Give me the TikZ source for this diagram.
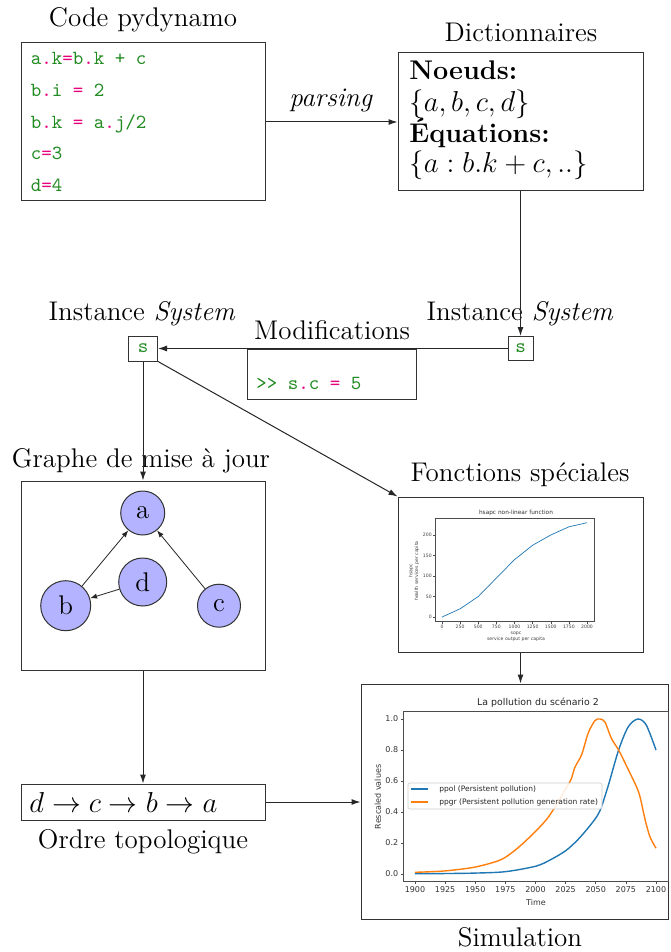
\documentclass[tikz,border=0pt]{standalone}
\usepackage{fontspec}
\newfontfamily\plotfont{DejaVu Sans}
\usetikzlibrary{arrows.meta}
\definecolor{codegreen}{RGB}{34,139,34}
\definecolor{codepink}{RGB}{230,0,126}
\definecolor{mplblue}{RGB}{31,119,180}
\definecolor{mplorange}{RGB}{255,127,14}
\definecolor{nodeblue}{RGB}{179,179,255}
\newcommand{\cg}[1]{\textcolor{codegreen}{#1}}
\newcommand{\cp}[1]{\textcolor{codepink}{#1}}
\newcommand{\bigtxt}{\fontsize{13.5pt}{16pt}\selectfont}
\begin{document}
\begin{tikzpicture}[x=0.5pt,y=-0.5pt,
  box/.style={draw=black!80, line width=0.5pt, inner sep=0pt, fill=white},
  conn/.style={draw=black!85, line width=0.5pt, -{Latex[length=4.5pt,width=3pt]}},
  lbl/.style={font=\bigtxt, inner sep=0pt, anchor=base},
  codel/.style={font=\ttfamily, inner sep=0pt, anchor=base west},
  dictl/.style={font=\bigtxt, inner sep=0pt, anchor=base west},
  gnode/.style={circle, draw=black!80, fill=nodeblue, inner sep=0pt, font=\bigtxt, line width=0.5pt},
  gedge/.style={draw=black!85, line width=0.4pt, -{Latex[length=3.5pt,width=2.6pt]}},
  axisc/.style={draw=black!70, line width=0.25pt},
  tickh/.style={font=\plotfont\fontsize{2.3pt}{2.8pt}\selectfont, text=black!75, inner sep=0.5pt},
  ticks/.style={font=\plotfont\fontsize{4pt}{4.8pt}\selectfont, text=black!80, inner sep=1pt},
  legt/.style={font=\plotfont\fontsize{3.75pt}{4.4pt}\selectfont, text=black!85, inner sep=0pt, anchor=west}]
\fill[white] (0,0) rectangle (670,952);
\useasboundingbox (0,0) rectangle (670,952);

% titles
\node[lbl] (tcode) at (143,27) {Code pydynamo};
\node[lbl] (tdict) at (521,42) {Dictionnaires};
\node[lbl] (tparse) at (331,107) {\textit{parsing}};
\node[lbl] (tinst1) at (142,320) {Instance \textit{System}};
\node[lbl] (tinst2) at (520,320) {Instance \textit{System}};
\node[lbl] (tmods) at (332,339) {Modifications};
\node[lbl] (tgraph) at (141,467) {Graphe de mise à jour};
\node[lbl] (tfonc) at (520,481) {Fonctions spéciales};
\node[lbl] (torder) at (143,848) {Ordre topologique};
\node[lbl] (tsim) at (520,946) {Simulation};

% boxes
\node[box, minimum width=122pt, minimum height=79pt] (code) at (143,122) {};
\node[box, minimum width=122.5pt, minimum height=69pt] (dict) at (520.5,122) {};
\node[box, minimum width=14.5pt, minimum height=12.5pt] (s1) at (143,348.5) {\texttt{\cg{s}}};
\node[box, minimum width=12.5pt, minimum height=12pt] (s2) at (520.5,348.5) {\texttt{\cg{s}}};
\node[box, minimum width=84.5pt, minimum height=25pt] (mods) at (331.5,374) {};
\node[box, minimum width=122pt, minimum height=94.5pt] (graph) at (143,575.5) {};
\node[box, minimum width=122.5pt, minimum height=77.5pt] (fonc) at (520.5,574.5) {};
\node[box, minimum width=153.75pt, minimum height=117.5pt] (sim) at (514.75,801.5) {};
\node[box, minimum width=122pt, minimum height=18pt] (order) at (143,802) {};

% code text
\node[codel] (c1) at (30.5,65) {\cg{a}\cp{.}\cg{k}\cp{=}\cg{b}\cp{.}\cg{k + c}};
\node[codel] (c2) at (30.5,97) {\cg{b}\cp{.}\cg{i} \cp{=} \cg{2}};
\node[codel] (c3) at (30.5,129) {\cg{b}\cp{.}\cg{k} \cp{=} \cg{a}\cp{.}\cg{j/2}};
\node[codel] (c4) at (30.5,160) {\cg{c}\cp{=}\cg{3}};
\node[codel] (c5) at (30.5,192) {\cg{d}\cp{=}\cg{4}};
\node[codel] (m1) at (256,389) {\cg{>{}>} \cg{s}\cp{.}\cg{c} \cp{=} \cg{5}};

% dictionary text
\node[dictl] (d1) at (409,80) {\textbf{Noeuds:}};
\node[dictl] (d2) at (409,111.5) {$\{a, b, c, d\}$};
\node[dictl] (d3) at (409,142.5) {\textbf{Équations:}};
\node[dictl] (d4) at (409,173) {$\{a : b.k + c, ..\}$};

% order text
\node[dictl] (o1) at (29,812) {$d \to c \to b \to a$};

% graph
\node[gnode, minimum size=22pt] (a) at (142.7,513) {a};
\node[gnode, minimum size=24pt] (d) at (142.7,582) {d};
\node[gnode, minimum size=25pt] (b) at (65.7,605.7) {b};
\node[gnode, minimum size=21.5pt] (c) at (219,605.7) {c};
\draw[gedge] (b) -- (a);
\draw[gedge] (c) -- (a);
\draw[gedge] (d) -- (b);

% connectors
\draw[conn] (code.east) -- (dict.west);
\draw[conn] (dict.south) -- (s2.north);
\draw[conn] (s2.west) -- (s1.east);
\draw[conn] (s1.south) -- (graph.north);
\draw[conn] (s1.south east) -- (fonc.north west);
\draw[conn] (fonc.south) -- (fonc.south |- sim.north);
\draw[conn] (graph.south) -- (order.north);
\draw[conn] (order.east) -- (order.east -| sim.west);

% hsapc plot
\node[font=\plotfont\fontsize{2.9pt}{3.5pt}\selectfont, text=black!80, inner sep=0pt] (ht) at (516,512.5) {hsapc non-linear function};
\node[tickh, align=center] (hx) at (516,636.5) {sopc\\service output per capita};
\node[tickh, align=center, rotate=90] (hy) at (414,571) {hsapc\\health services per capita};
\begin{scope}[shift={(442,617)}]
\begin{scope}[x=0.03625pt,y=0.205pt]
\draw[axisc] (-100,-11.5) rectangle (2100,241.5);
\foreach \t in {0,250,...,2000} {\draw[axisc] (\t,-11.5) -- ++(0pt,-0.9pt) node[tickh, anchor=north]{\t};}
\foreach \v in {0,50,...,200} {\draw[axisc] (-100,\v) -- ++(-0.9pt,0pt) node[tickh, anchor=east]{\v};}
\draw[mplblue, line width=0.35pt] (0,0) -- (250,20) -- (500,50) -- (750,95) -- (1000,140) -- (1250,175) -- (1500,200) -- (1750,220) -- (2000,230);
\end{scope}
\end{scope}

% simulation plot
\node[font=\plotfont\fontsize{4.7pt}{5.6pt}\selectfont, text=black!85, inner sep=0pt] (st) at (538,703) {La pollution du scénario 2};
\node[ticks] (sx) at (536,903) {Time};
\node[ticks, rotate=90] (sy) at (378,797) {Rescaled values};
\begin{scope}[shift={(-1874.5,874)}]
\begin{scope}[x=0.6025pt,y=77.5pt]
\draw[axisc, line width=0.35pt] (1890,-0.05) rectangle (2110,1.05);
\foreach \t in {1900,1925,...,2100} {\draw[axisc, line width=0.35pt] (\t,-0.05) -- ++(0pt,-1.2pt) node[ticks, anchor=north]{\t};}
\foreach \v/\l in {0/0.0,0.2/0.2,0.4/0.4,0.6/0.6,0.8/0.8,1/1.0} {\draw[axisc, line width=0.35pt] (1890,\v) -- ++(-1.2pt,0pt) node[ticks, anchor=east]{\l};}
\draw[mplblue, line width=0.7pt] plot[smooth, tension=0.5] coordinates {(1900,0.002) (1925,0.003) (1950,0.006) (1975,0.015) (2000,0.05) (2012,0.09) (2025,0.15) (2035,0.22) (2045,0.31) (2053,0.40) (2060,0.56) (2069,0.80) (2077,0.95) (2085,1.0) (2092,0.96) (2100,0.80)};
\draw[mplorange, line width=0.7pt] plot[smooth, tension=0.5] coordinates {(1900,0.011) (1925,0.02) (1950,0.045) (1970,0.088) (1980,0.135) (1990,0.2) (2000,0.275) (2010,0.36) (2020,0.48) (2025,0.55) (2029.4,0.607) (2032.8,0.69) (2038.3,0.77) (2043.8,0.91) (2049.4,0.99) (2053.5,1.0) (2057.7,0.98) (2063,0.875) (2069,0.8) (2076,0.69) (2083.4,0.57) (2086.7,0.5) (2091,0.35) (2095,0.24) (2100,0.167)};
\end{scope}
\end{scope}
% legend
\draw[draw=black!20, fill=white, fill opacity=0.85, line width=0.3pt, rounded corners=1pt] (408,783) rectangle (602,809);
\draw[mplblue, line width=0.7pt] (411,789) -- (428,789);
\draw[mplorange, line width=0.7pt] (411,802) -- (428,802);
\node[legt] (l1) at (439,789) {ppol (Persistent pollution)};
\node[legt] (l2) at (439,802) {ppgr (Persistent pollution generation rate)};
\end{tikzpicture}
\end{document}
